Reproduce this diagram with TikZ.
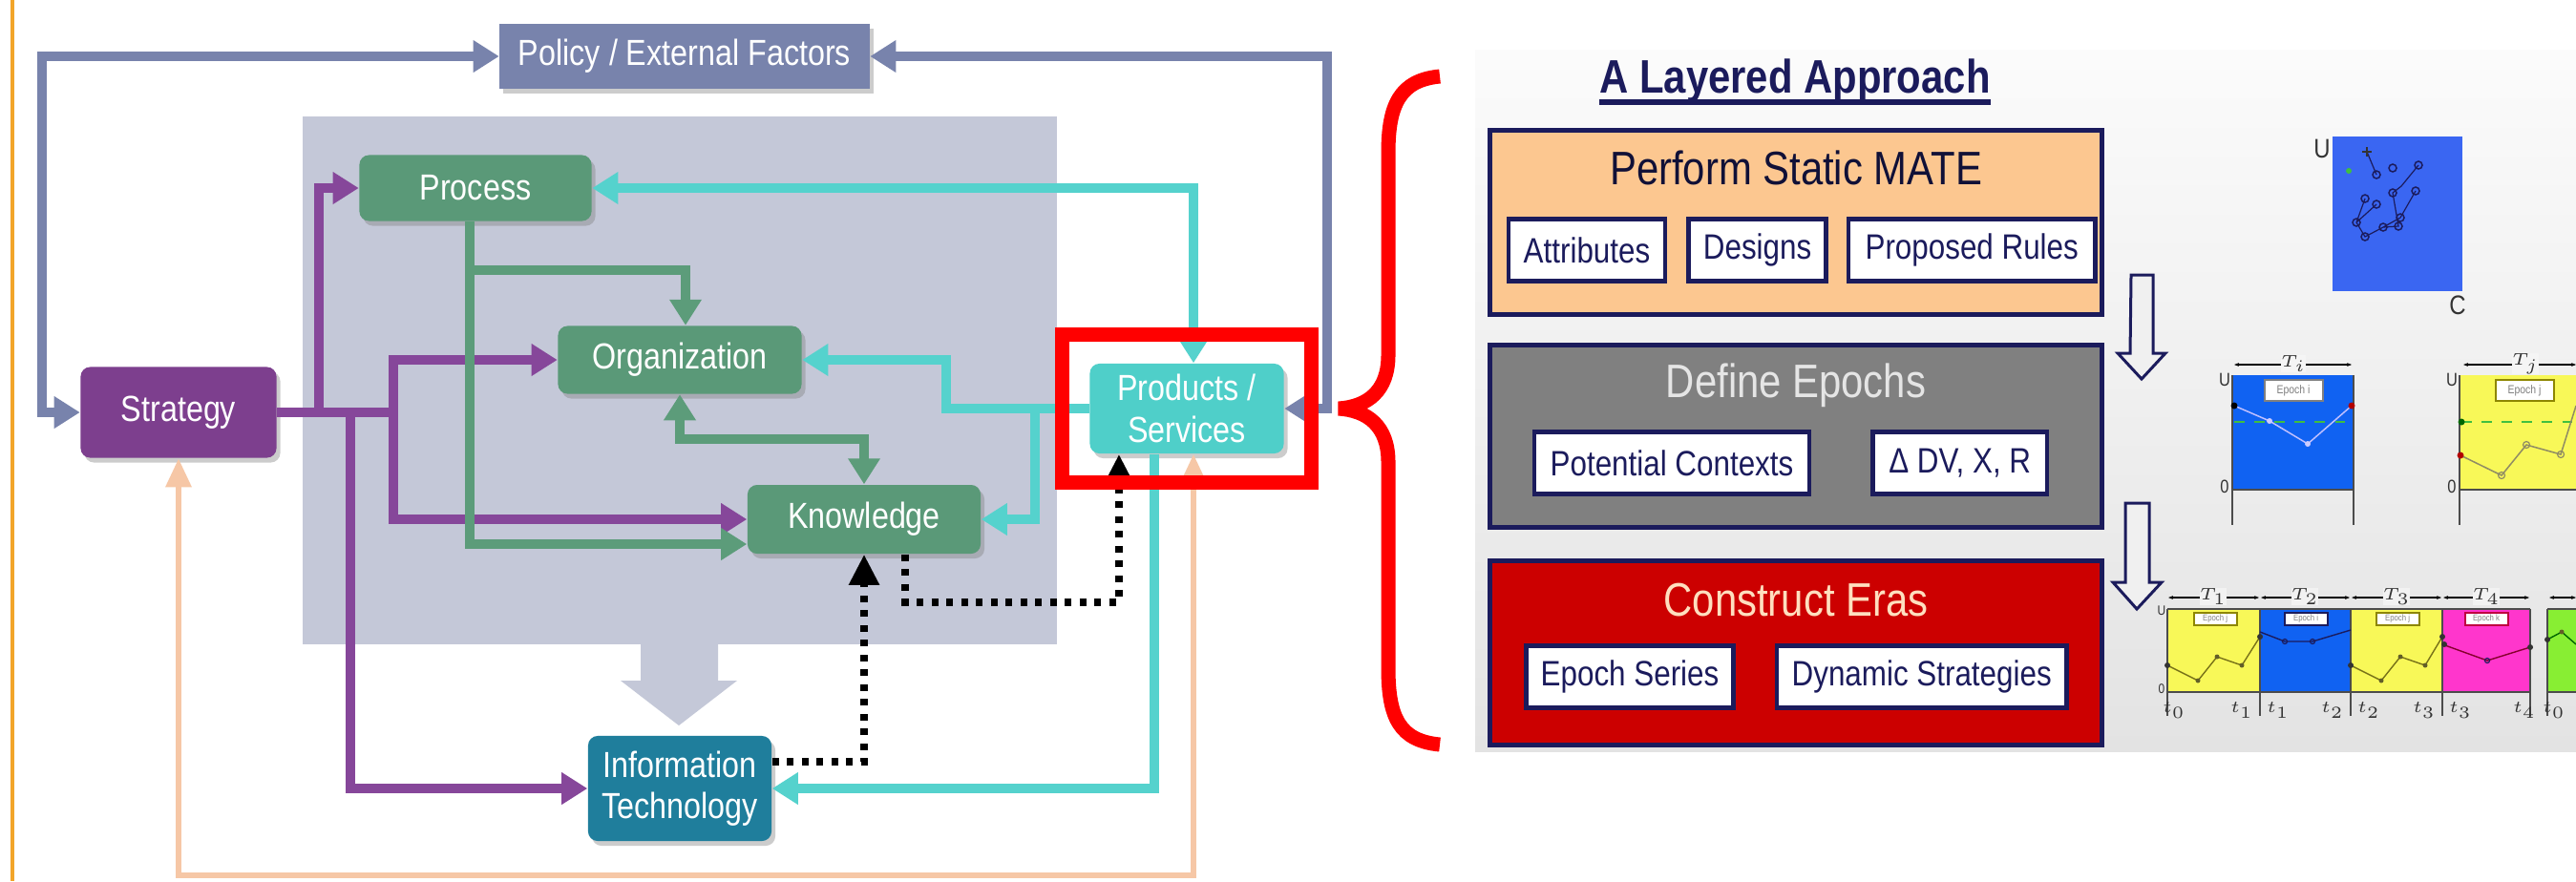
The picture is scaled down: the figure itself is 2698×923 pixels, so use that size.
\documentclass[tikz,border=0pt]{standalone}
\usepackage{fontspec}
\setmainfont{Liberation Sans}
\newfontfamily\narrowsans{Liberation Sans}[FakeStretch=0.85]
\usetikzlibrary{positioning,arrows.meta,fit,shadows}

\definecolor{polblue}{HTML}{7883AC}
\definecolor{stratpurple}{HTML}{7D3F8E}
\definecolor{linepurple}{HTML}{86479A}
\definecolor{boxgreen}{HTML}{5A9978}
\definecolor{linegreen}{HTML}{5C9C7A}
\definecolor{prodteal}{HTML}{4FCFC9}
\definecolor{lineteal}{HTML}{55D2CD}
\definecolor{itblue}{HTML}{1F7E9C}
\definecolor{panelgray}{HTML}{C4C8D8}
\definecolor{peach}{HTML}{F6C7A6}
\definecolor{edgeorange}{HTML}{F2A52A}
\definecolor{navy}{HTML}{1B1B5C}
\definecolor{matepeach}{HTML}{FCC790}
\definecolor{epochgray}{HTML}{808080}
\definecolor{eracrimson}{HTML}{CC0000}
\definecolor{erablue}{HTML}{1062F2}
\definecolor{erayellow}{HTML}{F8F858}
\definecolor{eramagenta}{HTML}{FF36CC}
\definecolor{eragreen}{HTML}{88EE33}
\definecolor{scatterblue}{HTML}{3A66F2}

\tikzset{
  block/.style={rounded corners=0.1cm, text=white, align=center, inner sep=0pt,
    font=\narrowsans\fontsize{10.8}{12.3}\selectfont,
    drop shadow={shadow xshift=0.04cm, shadow yshift=-0.05cm, opacity=0.4}},
  polflow/.style={draw=polblue, line width=0.1cm},
  purpflow/.style={draw=linepurple, line width=0.1cm},
  greenflow/.style={draw=linegreen, line width=0.1cm},
  tealflow/.style={draw=lineteal, line width=0.1cm},
  peachflow/.style={draw=peach, line width=0.06cm,
    {Triangle[length=0.3cm,width=0.26cm]}-{Triangle[length=0.3cm,width=0.26cm]}},
  dotflow/.style={draw=black, line width=0.08cm, dash pattern=on 0.07cm off 0.085cm,
    -{Triangle[length=0.32cm,width=0.3cm]}},
  layer/.style={draw=navy, line width=0.05cm, minimum width=6.4cm, inner sep=0pt},
  layertitle/.style={anchor=base, inner sep=0pt, font=\narrowsans\fontsize{14}{16}\selectfont},
  item/.style={draw=navy, fill=white, line width=0.045cm, minimum height=0.65cm, inner sep=0pt,
    text=navy, font=\narrowsans\fontsize{10.5}{12}\selectfont},
  axislabel/.style={inner sep=0pt, text=black!80, font=\narrowsans\fontsize{5.5}{6}\selectfont},
  epochtag/.style={draw=#1, fill=white, line width=0.02cm, minimum width=0.45cm, minimum height=0.13cm,
    inner sep=0pt, text=gray, font=\narrowsans\fontsize{2.6}{3}\selectfont},
  period/.style={line width=0.012cm, {Stealth[length=0.05cm]}-{Stealth[length=0.05cm]}},
  tline/.style={draw=black!70, line width=0.013cm}
}

\begin{document}
\begin{tikzpicture}[x=0.01cm, y=-0.01cm, >={Triangle[length=0.27cm,width=0.32cm]}]
  \useasboundingbox (0,0) rectangle (2698,923);
  \fill[white] (0,0) rectangle (2698,923);
  \draw[edgeorange, line width=0.03cm] (13,0) -- (13,923);
  \fill[panelgray] (317,122) rectangle (1107,675);
  \fill[panelgray] (671,674) -- (671,713) -- (650,713) -- (711,760) -- (772,713) -- (752,713) -- (752,674) -- cycle;

  \node[block, fill=polblue, rounded corners=0pt, minimum width=3.87cm, minimum height=0.68cm] (policy) at (717,59) {Policy / External Factors};
  \node[block, fill=stratpurple, minimum width=2.05cm, minimum height=0.95cm] (strategy) at (187,432) {Strategy};
  \node[block, fill=boxgreen, minimum width=2.43cm, minimum height=0.69cm] (process) at (498,197) {Process};
  \node[block, fill=boxgreen, minimum width=2.55cm, minimum height=0.71cm] (org) at (712,377) {Organization};
  \node[block, fill=boxgreen, minimum width=2.44cm, minimum height=0.72cm] (knowledge) at (905,544) {Knowledge};
  \node[block, fill=prodteal, minimum width=2.03cm, minimum height=0.94cm] (products) at (1243,428) {Products /\\Services};
  \node[block, fill=itblue, minimum width=1.92cm, minimum height=1.10cm] (infotech) at (712,826) {Information\\Technology};

  \draw[polflow, <->] (strategy.west) -- ++(-40,0) |- (policy.west);
  \draw[polflow, <->] (products.east) -- ++(45,0) |- (policy.east);
  \draw[purpflow, ->] (strategy.east) -- ++(44,0) |- (process.west);
  \draw[purpflow, ->] (strategy.east) -- ++(122,0) |- (org.west);
  \draw[purpflow, ->] (strategy.east) -- ++(122,0) |- (knowledge.west);
  \draw[purpflow, ->] (strategy.east) -- ++(77,0) |- (infotech.west);
  \draw[greenflow, ->] ([xshift=-0.06cm]process.south) |- ([yshift=-0.26cm]knowledge.west);
  \draw[greenflow, ->] ([xshift=-0.06cm]process.south) -- ++(0,51) -| ([xshift=0.06cm]org.north);
  \draw[greenflow, <->] (org.south) -- ++(0,47) -| (knowledge.north);
  \draw[tealflow, <->] ([xshift=0.07cm]products.north) |- (process.east);
  \draw[tealflow, ->] (products.west) -- ++(-150,0) |- (org.east);
  \draw[tealflow, ->] (products.west) -- ++(-57,0) |- (knowledge.east);
  \draw[tealflow, ->] ([xshift=-0.34cm]products.south) |- (infotech.east);
  \draw[peachflow] (strategy.south) -- ++(0,437) -| ([xshift=0.07cm]products.south);
  \draw[dotflow] ([yshift=0.28cm]infotech.east) -| (knowledge.south);
  \draw[dotflow] ([xshift=0.43cm]knowledge.south) -- ++(0,50) -| ([xshift=-0.71cm]products.south);

  \node[draw=red, line width=0.15cm, fit=(products), inner xsep=0.28cm, inner ysep=0.3cm] (highlight) {};
  \draw[red, line width=0.15cm] (1508,80) .. controls (1466,84) and (1454,110) .. (1454,160) -- (1454,372)
    .. controls (1454,410) and (1432,426) .. (1402,428) .. controls (1432,430) and (1454,446) .. (1454,484)
    -- (1454,700) .. controls (1454,752) and (1466,776) .. (1508,780);

  \shade[top color=gray!3, bottom color=gray!22] (1545,52) rectangle (2698,787);
  \node[font=\narrowsans\fontsize{14}{16}\selectfont\bfseries, text=navy, inner sep=0pt, anchor=base] (heading) at (1880,97) {A Layered Approach};
  \draw[navy, line width=0.06cm] ([yshift=-0.1cm]heading.base west) -- ([yshift=-0.1cm]heading.base east);

  \node[layer, fill=matepeach, minimum height=1.93cm] (mate) at (1881,233) {};
  \node[layertitle, text=navy!60!black] (matetitle) at ([yshift=-0.6cm]mate.north) {Perform Static MATE};
  \node[item, minimum width=1.64cm] (attributes) at (1662,262) {Attributes};
  \node[item, minimum width=1.44cm, right=0.2cm of attributes] (designs) {Designs};
  \node[item, minimum width=2.58cm, right=0.19cm of designs] (rules) {Proposed Rules};

  \node[layer, fill=epochgray, minimum height=1.91cm] (epochs) at (1881,457) {};
  \node[layertitle, text=gray!20] (epochstitle) at ([yshift=-0.58cm]epochs.north) {Define Epochs};
  \node[item, minimum width=2.88cm] (contexts) at (1751,485) {Potential Contexts};
  \node[item, minimum width=1.82cm, right=0.62cm of contexts] (deltas) {Δ DV, X, R};

  \node[layer, fill=eracrimson, minimum height=1.92cm] (eras) at (1881,684) {};
  \node[layertitle, text=orange!25] (erastitle) at ([yshift=-0.6cm]eras.north) {Construct Eras};
  \node[item, minimum width=2.17cm] (series) at (1707,709) {Epoch Series};
  \node[item, minimum width=3.03cm, right=0.41cm of series] (strategies) {Dynamic Strategies};

  \draw[navy, line width=0.03cm, fill=gray!12] (2232,288) -- (2255,288) -- (2255,370) -- (2268,370) -- (2243,397) -- (2218,370) -- (2231,370) -- cycle;
  \draw[navy, line width=0.03cm, fill=gray!12] (2226,527) -- (2251,527) -- (2251,610) -- (2264,610) -- (2238,638) -- (2213,610) -- (2226,610) -- cycle;

  \fill[scatterblue] (2443,143) rectangle (2579,305);
  \node[axislabel, font=\narrowsans\fontsize{8}{8}\selectfont] (tradeu) at (2432,156) {U};
  \node[axislabel, font=\narrowsans\fontsize{8}{8}\selectfont] (tradec) at (2574,320) {C};
  \draw[navy, line width=0.012cm] (2479,159) -- (2489,183) (2533,173) -- (2515,195) -- (2506,202) -- (2512,237) -- (2496,238)
    (2530,200) -- (2514,228) -- (2496,238) -- (2477,248) -- (2468,233) -- (2477,208) (2489,214) -- (2468,233);
  \draw[navy, line width=0.015cm] (2489,183) circle[radius=4] (2506,176) circle[radius=4] (2533,173) circle[radius=4]
    (2506,202) circle[radius=4] (2530,200) circle[radius=4] (2477,208) circle[radius=4] (2489,214) circle[radius=4]
    (2468,233) circle[radius=4] (2514,228) circle[radius=4] (2496,238) circle[radius=4] (2512,237) circle[radius=4]
    (2477,248) circle[radius=4];
  \draw[black!80, line width=0.02cm] (2474,159) -- (2484,159) (2479,154) -- (2479,164);
  \fill[green!50!gray] (2460,179) circle[radius=3];

  \fill[erablue] (2338,393) rectangle (2465,513);
  \draw[tline] (2338,393) -- (2338,550) (2465,393) -- (2465,550) (2338,513) -- (2465,513);
  \draw[period] (2340,382) -- (2463,382);
  \node[axislabel, fill=gray!8] (periodi) at (2402,381) {$T_i$};
  \node[axislabel] (epochiu) at (2330,398) {U};
  \node[axislabel] (epochizero) at (2330,510) {0};
  \node[epochtag=gray, minimum width=0.61cm, minimum height=0.22cm, font=\narrowsans\fontsize{3.5}{4}\selectfont] (tagi) at (2402,409) {Epoch i};
  \draw[green!50!gray, dashed, line width=0.012cm] (2340,442) -- (2463,442);
  \draw[blue!25!white, line width=0.015cm] (2340,425) -- (2377,441) -- (2417,465) -- (2463,425);
  \fill[blue!20!white] (2377,441) circle[radius=3] (2417,465) circle[radius=3];
  \fill[black] (2340,425) circle[radius=3.5];
  \fill[red!70!black] (2463,425) circle[radius=3.5];

  \fill[erayellow] (2576,393) rectangle (2698,513);
  \draw[tline] (2576,393) -- (2576,550) (2576,513) -- (2698,513);
  \draw[period] (2580,382) -- (2698,382);
  \node[axislabel, fill=gray!8] (periodj) at (2645,381) {$T_j$};
  \node[axislabel] (epochju) at (2568,398) {U};
  \node[axislabel] (epochjzero) at (2568,510) {0};
  \node[epochtag=olive, minimum width=0.61cm, minimum height=0.22cm, font=\narrowsans\fontsize{3.5}{4}\selectfont] (tagj) at (2644,409) {Epoch j};
  \draw[green!50!gray, dashed, line width=0.012cm] (2578,442) -- (2698,442);
  \draw[gray!70!olive, line width=0.015cm] (2577,477) -- (2620,498) -- (2646,466) -- (2682,476) -- (2698,425);
  \draw[gray!70!olive, line width=0.012cm] (2620,498) circle[radius=3.5] (2646,466) circle[radius=3.5] (2682,476) circle[radius=3.5];
  \fill[green!40!black] (2578,442) circle[radius=3.5];
  \fill[red!70!black] (2577,477) circle[radius=3.5];

  \fill[erayellow] (2270,638) rectangle (2367,725);
  \fill[erablue] (2367,638) rectangle (2462,725);
  \fill[erayellow] (2462,638) rectangle (2558,725);
  \fill[eramagenta] (2558,638) rectangle (2650,725);
  \fill[eragreen] (2668,638) rectangle (2698,725);
  \draw[tline] (2270,638) -- (2650,638) (2270,725) -- (2650,725) (2668,638) -- (2698,638) (2668,725) -- (2698,725)
    (2270,638) -- (2270,750) (2367,638) -- (2367,750) (2462,638) -- (2462,750) (2558,638) -- (2558,750)
    (2650,638) -- (2650,750) (2668,638) -- (2668,750);
  \draw[period] (2271,626) -- (2366,626);
  \draw[period] (2368,626) -- (2461,626);
  \draw[period] (2463,626) -- (2557,626);
  \draw[period] (2559,626) -- (2649,626);
  \draw[period] (2670,626) -- (2698,626);
  \node[axislabel, fill=gray!10, font=\narrowsans\fontsize{3.5}{4}\selectfont] (periodone) at (2318,625) {$T_1$};
  \node[axislabel, fill=gray!10, font=\narrowsans\fontsize{3.5}{4}\selectfont] (periodtwo) at (2414,625) {$T_2$};
  \node[axislabel, fill=gray!10, font=\narrowsans\fontsize{3.5}{4}\selectfont] (periodthree) at (2510,625) {$T_3$};
  \node[axislabel, fill=gray!10, font=\narrowsans\fontsize{3.5}{4}\selectfont] (periodfour) at (2604,625) {$T_4$};
  \node[axislabel, font=\narrowsans\fontsize{4}{4}\selectfont] (erau) at (2264,640) {U};
  \node[axislabel, font=\narrowsans\fontsize{4}{4}\selectfont] (erazero) at (2264,722) {0};
  \node[epochtag=olive] (erataga) at (2320,648) {Epoch j};
  \node[epochtag=navy] (eratagb) at (2415,648) {Epoch i};
  \node[epochtag=olive] (eratagc) at (2511,648) {Epoch j};
  \node[epochtag=purple] (eratagd) at (2604,648) {Epoch k};
  \draw[olive!80!black, line width=0.014cm] (2270,697) -- (2302,713) -- (2322,688) -- (2348,697) -- (2367,667);
  \draw[olive!80!black, line width=0.014cm] (2462,697) -- (2494,713) -- (2514,688) -- (2540,697) -- (2558,667);
  \draw[navy, line width=0.014cm] (2367,662) -- (2393,672) -- (2422,672) -- (2462,660);
  \draw[purple!70!black, line width=0.014cm] (2558,675) -- (2605,692) -- (2650,678);
  \draw[green!40!black, line width=0.014cm] (2668,670) -- (2683,662) -- (2698,675);
  \fill[black!80] (2270,697) circle[radius=3] (2367,667) circle[radius=3] (2462,697) circle[radius=3] (2558,667) circle[radius=3]
    (2560,675) circle[radius=3] (2650,678) circle[radius=3] (2668,670) circle[radius=3];
  \fill[olive!60!black] (2302,713) circle[radius=2.5] (2322,688) circle[radius=2.5] (2348,697) circle[radius=2.5]
    (2494,713) circle[radius=2.5] (2514,688) circle[radius=2.5] (2540,697) circle[radius=2.5] (2683,662) circle[radius=2.5];
  \draw[navy, line width=0.012cm] (2393,672) circle[radius=2.5] (2422,672) circle[radius=2.5] (2605,692) circle[radius=2.5];
  \node[axislabel, font=\fontsize{2.6}{3}\selectfont] (stampzero) at (2277,744) {$t_0$};
  \node[axislabel, font=\fontsize{2.6}{3}\selectfont] (stampone) at (2367,744) {$t_1\;\;t_1$};
  \node[axislabel, font=\fontsize{2.6}{3}\selectfont] (stamptwo) at (2462,744) {$t_2\;\;t_2$};
  \node[axislabel, font=\fontsize{2.6}{3}\selectfont] (stampthree) at (2558,744) {$t_3\;\;t_3$};
  \node[axislabel, font=\fontsize{2.6}{3}\selectfont] (stampfour) at (2644,744) {$t_4$};
  \node[axislabel, font=\fontsize{2.6}{3}\selectfont] (stampfive) at (2675,744) {$t_0$};
\end{tikzpicture}
\end{document}
